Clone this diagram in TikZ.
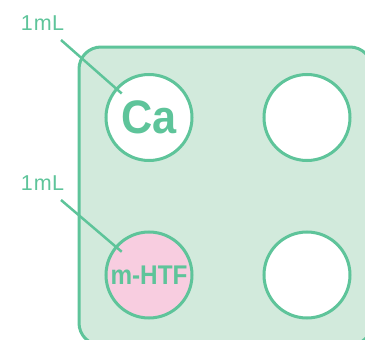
\documentclass[tikz,border=0pt]{standalone}
\usepackage{fontspec}
\setmainfont{Liberation Sans}
\usetikzlibrary{calc}
\definecolor{gline}{HTML}{5EC49A}
\definecolor{gfill}{HTML}{D2EADC}
\definecolor{pinkf}{HTML}{F8CDE0}
\tikzset{
  well/.style={circle, draw=gline, line width=3pt, minimum size=86pt, inner sep=0pt, fill=white},
  lbl/.style={text=gline, font=\fontsize{21.5}{21.5}\selectfont, inner sep=0pt},
  conn/.style={draw=gline, line width=2.5pt},
}
\begin{document}
\begin{tikzpicture}[x=1pt,y=-1pt]
\useasboundingbox (0,0) rectangle (365,340);
\begin{scope}
\clip (0,0) rectangle (365,340);
\draw[draw=gline, fill=gfill, line width=3pt, rounded corners=22pt] (79,47) rectangle (372,345);
\node[well] (ca) at (149,117.5) {\textcolor{gline}{\fontsize{47}{47}\selectfont\bfseries\scalebox{0.92}[1]{Ca}}};
\node[well] (w2) at (307,117.5) {};
\node[well, fill=pinkf] (htf) at (149,275) {\textcolor{gline}{\fontsize{27}{27}\selectfont\bfseries\scalebox{0.9}[1]{m-HTF}}};
\node[well] (w4) at (307,275) {};
\node[lbl] (l1) at (42.5,23) {1\kern1pt m\kern0.5pt L};
\node[lbl] (l2) at (42.5,183) {1\kern1pt m\kern0.5pt L};
\coordinate (s1) at (61,40);
\coordinate (s2) at (61,200);
\draw[conn] (s1) -- ($(s1)!0.69!(ca.center)$);
\draw[conn] (s2) -- ($(s2)!0.69!(htf.center)$);
\end{scope}
\end{tikzpicture}
\end{document}
